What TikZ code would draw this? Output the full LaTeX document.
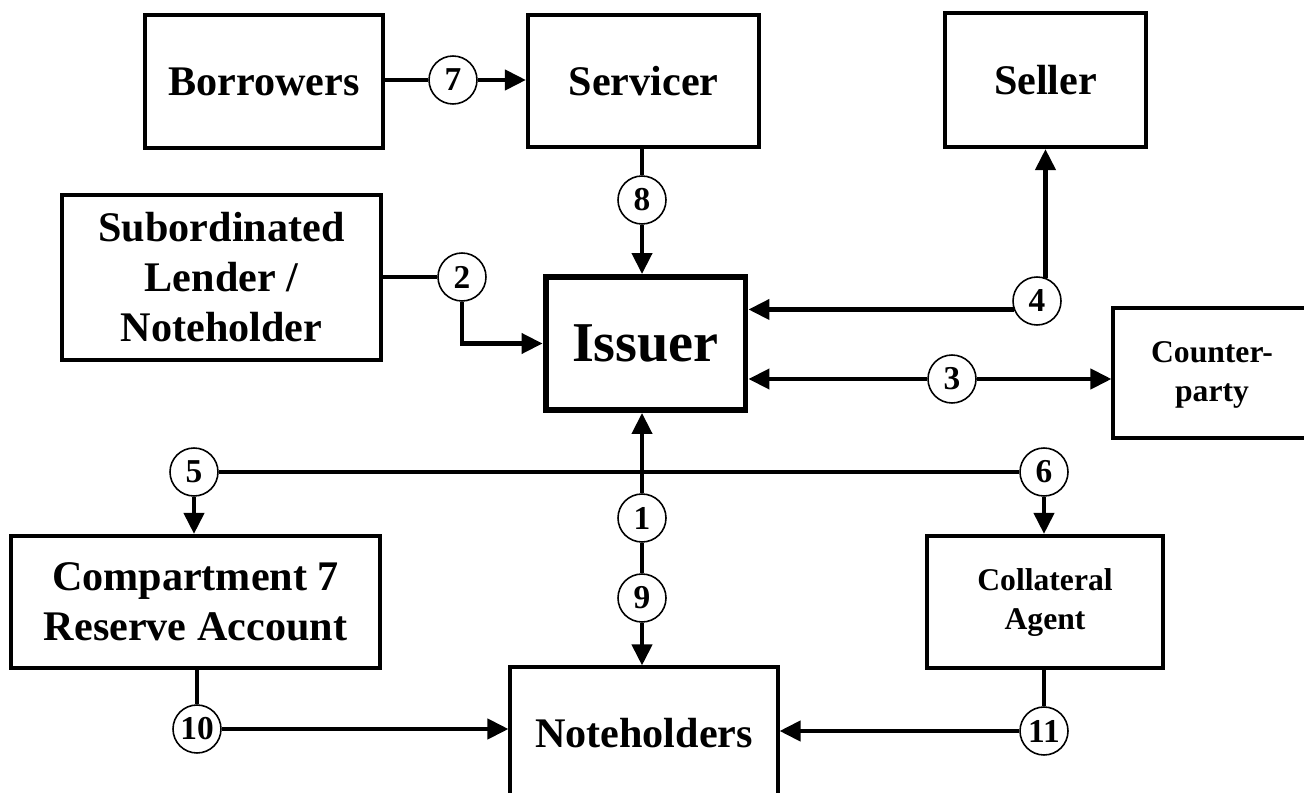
\documentclass[tikz,border=0pt]{standalone}
\usepackage{fontspec}
\setmainfont{Liberation Serif}
\usetikzlibrary{arrows.meta}
\tikzset{
    party/.style={rectangle, draw=black, line width=2.4pt, fill=white, align=center, inner sep=0pt, font=\fontsize{24}{28.5}\selectfont\bfseries},
    smallparty/.style={party, font=\fontsize{18}{22}\selectfont\bfseries},
    thinparty/.style={line width=1.8pt},
    flownum/.style={circle, draw=black, line width=0.9pt, fill=white, minimum size=0.96cm, inner sep=0pt, font=\fontsize{19}{19}\selectfont\bfseries},
    flow/.style={line width=2.4pt},
    arrowline/.style={flow, -{Triangle[length=4.2mm, width=4mm]}}
}

\begin{document}
\begin{tikzpicture}[x=0.02cm, y=-0.02cm]
  \useasboundingbox (0,0) rectangle (1304,793);
  % parties
  \node[party, minimum width=4.76cm, minimum height=2.66cm] (borrowers) at (264,81.5) {Borrowers};
  \node[party, minimum width=4.62cm, minimum height=2.64cm] (servicer) at (643.5,81) {Servicer};
  \node[party, minimum width=4.02cm, minimum height=2.68cm] (seller) at (1045.5,80) {Seller};
  \node[party, minimum width=6.38cm, minimum height=3.3cm] (subord) at (221.5,277.5) {Subordinated\\Lender /\\Noteholder};
  \node[party, line width=3.4pt, minimum width=4cm, minimum height=2.66cm, font=\fontsize{32}{36}\selectfont\bfseries] (issuer) at (645.5,343.5) {Issuer};
  \node[smallparty, thinparty, minimum width=3.96cm, minimum height=2.6cm] (counter) at (1212,373) {\rule{0pt}{0.5cm}Counter-\\party};
  \node[party, minimum width=7.38cm, minimum height=2.64cm] (compart) at (195.5,602) {Compartment 7\\Reserve Account};
  \node[smallparty, minimum width=4.72cm, minimum height=2.64cm] (collat) at (1045,602) {\rule{0pt}{0.45cm}Collateral\\Agent};
  \node[party, thinparty, minimum width=5.36cm, minimum height=2.64cm] (notes) at (644,733) {Noteholders};

  % numbered flows
  \node[flownum] (n1) at (642,518) {1};
  \node[flownum] (n2) at (462,277) {2};
  \node[flownum] (n3) at (952,379) {3};
  \node[flownum] (n4) at (1037,301) {4};
  \node[flownum] (n5) at (194,472) {5};
  \node[flownum] (n6) at (1044,472) {6};
  \node[flownum] (n7) at (453,80) {7};
  \node[flownum] (n8) at (642,200) {8};
  \node[flownum] (n9) at (642,598) {9};
  \node[flownum] (n10) at (197,729) {10};
  \node[flownum] (n11) at (1044,731) {11};

  \draw[flow] (borrowers.east |- n7) -- (n7);
  \draw[arrowline] (n7) -- (n7 -| servicer.west);
  \draw[flow] (servicer.south -| n8) -- (n8);
  \draw[arrowline] (n8) -- (n8 |- issuer.north);
  \draw[flow] (subord.east |- n2) -- (n2);
  \draw[arrowline] (n2.south) |- (issuer.west);
  \draw[arrowline] (n4.200) -- (n4.200 -| issuer.east);
  \draw[arrowline] (n4.70) -- (n4.70 |- seller.south);
  \draw[arrowline] (n3) -- (n3 -| issuer.east);
  \draw[arrowline] (n3) -- (n3 -| counter.west);
  \draw[flow] (n5) -- (n6);
  \draw[arrowline] (n5) -- (n5 |- compart.north);
  \draw[arrowline] (n6) -- (n6 |- collat.north);
  \draw[arrowline] (n1) -- (n1 |- issuer.south);
  \draw[flow] (n1) -- (n9);
  \draw[arrowline] (n9) -- (n9 |- notes.north);
  \draw[flow] (compart.south -| n10) -- (n10);
  \draw[arrowline] (n10) -- (n10 -| notes.west);
  \draw[flow] (collat.south -| n11) -- (n11);
  \draw[arrowline] (n11) -- (n11 -| notes.east);
\end{tikzpicture}
\end{document}
